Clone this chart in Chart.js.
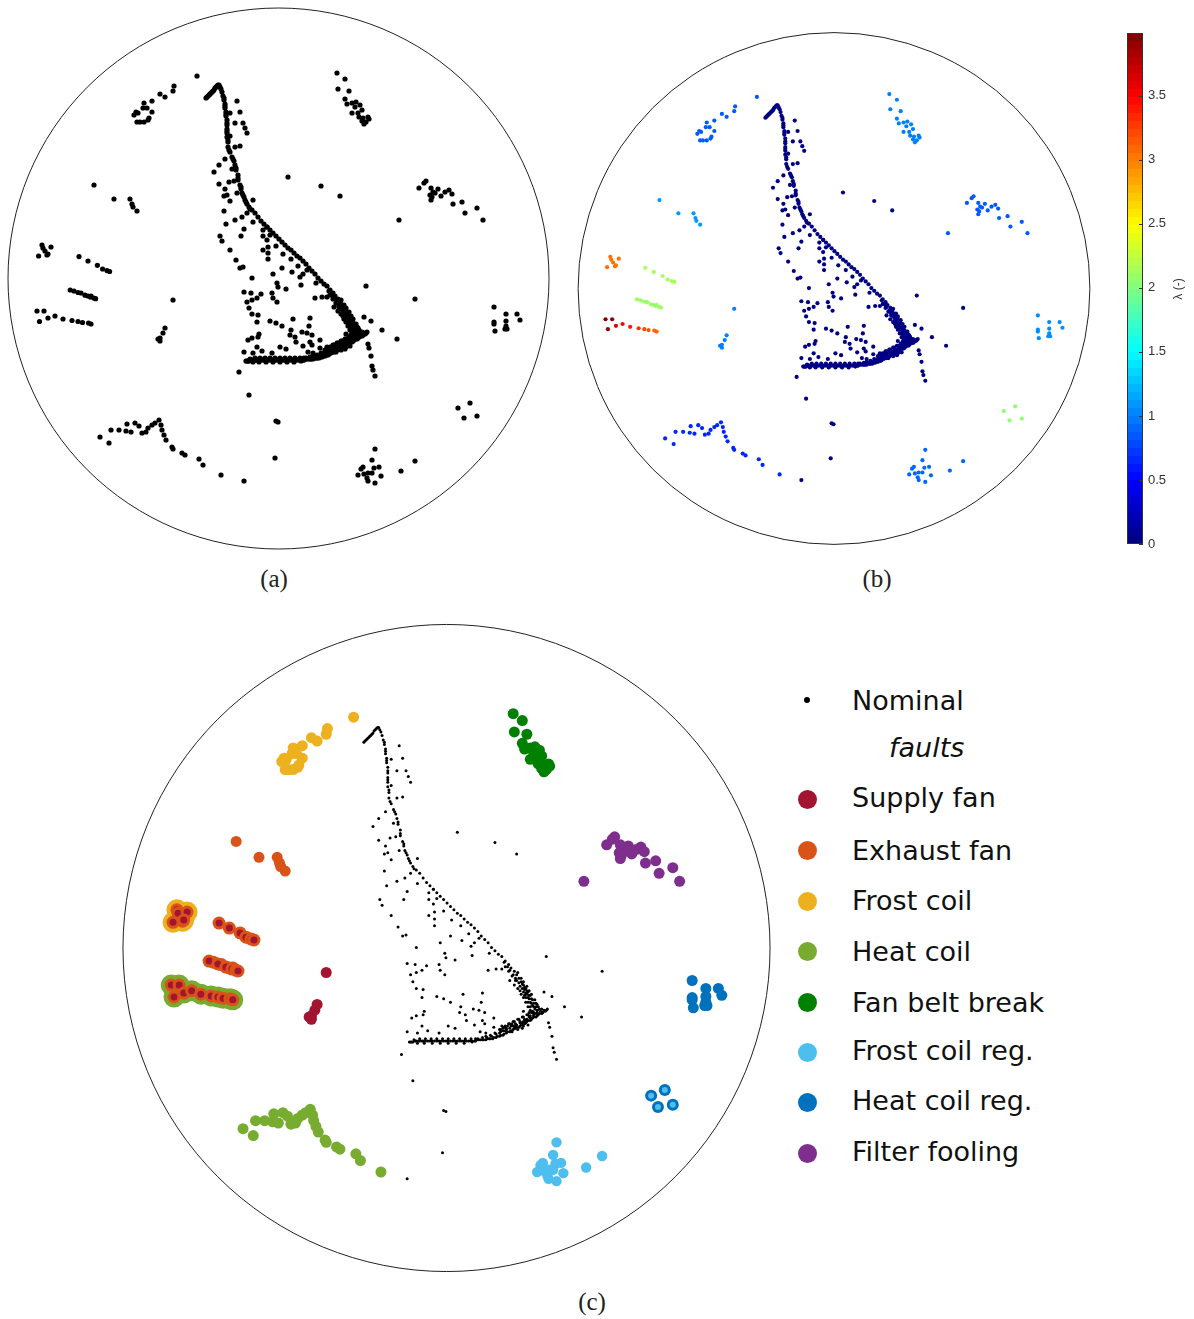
<!DOCTYPE html>
<html>
<head>
<meta charset="utf-8">
<script src="https://cdn.jsdelivr.net/npm/chart.js@4"></script>
<style>
body { margin: 0; background: #fff; width: 1194px; height: 1319px; position: relative; overflow: hidden; }
canvas { position: absolute; }
.cap { position: absolute; font-family: "Liberation Serif", serif; font-size: 25px; color: #222; transform: translateX(-50%); }
.leg { position: absolute; left: 852px; font-family: "DejaVu Sans", sans-serif; font-size: 27px; color: #111; line-height: 32px; white-space: nowrap; }
.dot { position: absolute; left: 797.5px; width: 19px; height: 19px; border-radius: 50%; }
#lam { position: absolute; left: 1158px; top: 282px; width: 40px; text-align: center; font-family: "Liberation Sans", sans-serif; font-size: 12px; color: #333; transform: rotate(-90deg); }
</style>
</head>
<body>
<canvas id="panelA" width="556" height="558" style="left:0;top:0"></canvas>
<canvas id="panelB" width="530" height="530" style="left:570px;top:25px"></canvas>
<canvas id="panelC" width="664" height="664" style="left:115px;top:616px"></canvas>
<canvas id="colorbar" width="67" height="531" style="left:1127px;top:23px"></canvas>
<div id="lam">λ (-)</div>
<div class="cap" style="left:274px;top:565px">(a)</div>
<div class="cap" style="left:877px;top:565px">(b)</div>
<div class="cap" style="left:592px;top:1288px">(c)</div>
<div id="legend"></div>
<script>
let nominal = [
[206,98],[207,97],[208,96],[209,95],[210,94],[211,93],[212,92],[213,91],[214,90],[215,88],[216,87],[217,86],[218,85],[219,85],[220,87],[221,89],
[222,92],[223,96],[224,98],[224,100],[225,104],[225,106],[225,108],[226,112],[226,114],[226,116],[227,120],[227,123],[227,125],[227,129],[227,131],[227,133],[227,137],[228,140],[228,142],[228,147],[229,150],[230,152],[232,157],[233,159],[234,161],[235,165],[236,168],[236,170],[238,175],[238,178],[238,180],[240,185],[241,187],[241,189],[242,193],[243,195],[244,197],[245,200],[246,202],[247,204],[249,207],[250,209],[252,210],[255,213],[258,217],[261,221],[264,224],[267,227],[270,230],[273,233],[276,236],[279,239],[282,242],[285,245],[288,248],[291,250],[294,253],[297,256],[300,258],[303,261],[306,264],[309,268],[312,271],[315,274],[318,278],[321,281],[324,284],[327,286],[330,290],[333,293],[335,296],[338,299],[340,302],[342,305],[344,308],[346,311],[348,314],[350,317],[352,320],[354,324],[355,327],[357,330],[358,333],
[329,291],[332,295],[334,298],[337,302],[339,305],[341,300],[344,305],[346,308],[349,312],[351,316],[353,319],[356,324],[358,328],[360,332],[342,309],[345,314],[348,318],[350,322],[352,326],[354,329],[356,332],[340,307],[343,312],[346,317],[348,322],[350,326],[352,330],[354,334],[351,335],
[330,295],[333,299],[336,303],[339,307],[338,311],[341,314],[344,319],[346,322],[348,326],[350,330],[352,333],[355,335],[347,315],[349,319],[351,323],[353,327],[355,330],[343,316],[345,310],[347,313],[349,316],[351,320],[353,323],[357,327],[359,330],
[367,332],[366,333],[365,334],[363,335],[362,336],[360,336],[359,337],[358,338],[357,339],[355,339],[354,340],[353,341],[352,342],[350,342],[349,343],[348,344],[347,345],[345,345],[344,346],[343,347],[342,348],[340,348],[339,349],[338,349],[337,350],[335,351],[334,352],[332,352],[331,353],[329,354],[328,355],[326,355],[325,356],[323,356],[322,357],[320,357],[319,358],[317,358],[316,358],[314,358],[313,359],[311,359],[310,359],[308,359],[306,359],[304,360],[303,360],[301,360],[300,360],[298,360],[296,360],[294,360],[292,360],[290,360],[288,360],[286,360],[284,360],[282,360],[280,360],[278,360],[276,360],[274,360],[272,360],[270,360],[268,360],[266,360],[264,360],[262,360],[260,360],[258,360],[257,360],[255,360],[254,360],[252,360],[251,360],[249,361],[248,361],[247,361],[246,361],
[362,332],[358,335],[355,337],[351,339],[347,341],[343,343],[339,345],[335,347],[331,349],[326,352],[350,346],[345,349],[353,335],[349,337],[345,339],[341,341],[337,343],[333,345],[329,348],[325,350],[321,353],[317,355],[313,356],[336,352],[341,350],[346,347],[330,351],
[325,353],[328,351],[331,350],[334,349],[337,347],[340,346],[343,344],[346,343],[349,341],[352,340],[355,338],[358,336],[361,334],[364,333],[326,350],[330,347],[334,345],[338,343],[342,341],[346,339],[350,337],[354,335],[358,333],[322,354],[318,356],[314,357],[310,357],[306,358],[339,347],[344,344],[348,342],[352,338],[356,336],[336,345],[332,347],[328,349],
[250,359],[255,358],[260,358],[265,358],[270,358],[275,358],[280,358],[285,358],[290,358],[295,358],[300,358],[304,358],[253,362],[259,362],[266,362],[273,362],[280,362],[287,362],[294,362],[301,361],
[237,101],[230,113],[240,112],[243,123],[245,128],[247,133],[235,123],[230,136],[240,146],[235,147],[225,159],[219,165],[214,172],[232,169],[219,184],[229,182],[234,181],[225,189],[227,195],[224,196],[237,193],[230,201],[253,200],[224,211],[247,213],[242,217],[235,220],[226,224],[253,222],[244,229],[241,236],[220,236],[222,241],[230,250],[236,260],[240,268],[243,267],[252,278],[273,274],[282,268],[292,272],[298,266],[291,259],[283,254],[276,246],[268,247],[263,250],[268,253],[268,259],[263,236],[267,240],[270,235],[263,230],[267,227],
[300,277],[303,274],[307,270],[301,285],[316,283],[277,283],[278,287],[286,289],[244,292],[251,293],[261,294],[257,298],[272,293],[273,298],[277,302],[247,302],[252,300],[249,308],[252,314],[258,315],[257,322],[270,321],[276,323],[282,326],[293,319],[310,318],[309,326],[315,298],[322,297],[327,297],[334,307],[291,330],[290,335],[295,337],[302,332],[307,333],[312,335],[320,340],[310,342],[312,345],[296,342],[303,346],[280,347],[286,349],[259,334],[258,337],[252,338],[248,340],[244,352],[253,353],[257,347],[262,351],[272,353],[308,352],[313,353],[320,348],[327,347],[346,334],[347,320],
[364,317],[371,321],[382,330],[397,339],[366,286],[239,372],[415,299],[368,344],[369,348],[371,356],[372,366],[373,370],[375,376],
[288,177],[321,186],[340,196],[244,481],[249,395],[276,421],[278,422],[275,458]
];
let frostCoil = [[197,76],[174,86],[173,91],[165,97],[160,94],[152,101],[144,103],[143,108],[147,108],[152,112],[136,112],[134,115],[138,113],[149,118],[148,120],[144,122],[137,122],[140,122]];
let fanBeltBreak = [[337,73],[345,79],[338,89],[349,91],[345,99],[347,104],[352,103],[356,102],[355,107],[360,105],[362,110],[352,113],[358,113],[359,117],[362,121],[364,124],[368,117],[369,119],[366,122],[363,118]];
let filterFooling = [[419,188],[424,183],[426,181],[431,188],[438,189],[433,192],[430,195],[435,193],[431,200],[432,197],[441,196],[445,192],[449,190],[452,194],[453,204],[462,202],[465,213],[477,208],[483,220],[399,220]];
let heatCoilReg = [[494,307],[506,314],[517,314],[520,320],[494,322],[506,321],[494,324],[506,326],[495,331],[505,329],[507,329]];
let frostCoilReg = [[375,449],[372,460],[363,467],[361,469],[379,467],[374,468],[358,475],[364,474],[368,473],[372,473],[381,476],[367,478],[368,481],[375,483],[401,471],[415,461]];
let heatCoil = [[100,437],[109,443],[111,430],[119,430],[126,431],[127,424],[131,432],[135,423],[139,426],[142,433],[146,432],[148,428],[152,425],[155,423],[159,420],[161,425],[162,430],[164,435],[166,440],[172,447],[173,449],[182,453],[185,455],[199,459],[203,465],[221,475]];
let supplyFan = [[173,300],[165,328],[163,333],[160,338],[158,339],[160,341]];
let exhaustFan = [[94,185],[114,199],[130,199],[132,204],[133,207],[137,211]];
let exhaustBand = [[74,291],[81,293],[88,296],[91,296]];
// clusters that carry more than one fault label
let frostExhaustSupply = [[42,245],[45,251],[47,255],[43,248],[51,247],[38.6,256],[48,254]];
let exhaustSupplyA = [[79,256.6],[88,261],[97.4,265.3],[102.6,269],[107,270.6],[109.6,271.5]];
let exhaustSupplyB = [[70.2,290],[78,292.5],[85,295.2],[90.3,297],[93.8,298],[95.6,298.7]];
let heatExhaustSupply = [[37,311],[44,311],[39.5,321.5],[48,318],[55,316],[63,319],[72,320.5],[78,321.5],[82.5,322.5],[88.5,323],[91,324]];
let heatFrostReg = [[470,403],[458,408],[464,418],[477,416]];
let heatExhaustSupplyLambda = [3.95,3.95,3.9,3.6,3.5,3.4,3.3,3.2,3.15,3.1,3.1];

let legendNames = ['Supply fan','Exhaust fan','Frost coil','Heat coil','Fan belt break','Frost coil reg.','Heat coil reg.','Filter fooling'];
let legendColors = ['#a2142f','#d95319','#edb120','#77ac30','#008000','#4dbeee','#0072bd','#7e2f8e'];
let legendY = [799,850,901,951,1002,1052,1102,1153];
let legendTextY = [798,851,901,952,1003,1051,1101,1152];
let colorbarTicks = [0,0.5,1,1.5,2,2.5,3,3.5];
let lambdaMax = 3.99;

const RED = legendColors[0], ORANGE = legendColors[1], YELLOW = legendColors[2], GREEN = legendColors[3];
const BELT = legendColors[4], SKY = legendColors[5], BLUE = legendColors[6], PURPLE = legendColors[7];

function jet(v) {
    let t = Math.min(Math.max(v / lambdaMax, 0), 1);
    let r = Math.min(Math.max(Math.min(4 * t - 1.5, -4 * t + 4.5), 0), 1);
    let g = Math.min(Math.max(Math.min(4 * t - 0.5, -4 * t + 3.5), 0), 1);
    let b = Math.min(Math.max(Math.min(4 * t + 0.5, -4 * t + 2.5), 0), 1);
    return 'rgb(' + Math.round(r * 255) + ',' + Math.round(g * 255) + ',' + Math.round(b * 255) + ')';
}

function toXY(points) {
    return points.map(function (p) { return { x: p[0], y: p[1] }; });
}

function ds(points, color, radius) {
    return { data: toXY(points), pointBackgroundColor: color, pointRadius: radius, pointBorderWidth: 0, showLine: false };
}

// each point is drawn as nested circles, later points cover earlier ones
function nested(points, colors, radii) {
    let data = [], col = [], rad = [];
    points.forEach(function (p) {
        colors.forEach(function (c, i) {
            data.push({ x: p[0], y: p[1] });
            col.push(c);
            rad.push(radii[i]);
        });
    });
    return { data: data, pointBackgroundColor: col, pointRadius: rad, pointBorderWidth: 0, showLine: false };
}

let discPlugin = {
    id: 'disc',
    beforeDatasetsDraw(chart, args, opts) {
        let x = chart.scales.x, y = chart.scales.y, ctx = chart.ctx;
        let r = Math.abs(x.getPixelForValue(278.5 + opts.radius) - x.getPixelForValue(278.5));
        ctx.save();
        ctx.strokeStyle = '#222';
        ctx.lineWidth = 1;
        ctx.beginPath();
        ctx.arc(x.getPixelForValue(278.5), y.getPixelForValue(278.5), r, 0, Math.PI * 2);
        ctx.stroke();
        ctx.restore();
    }
};

function panel(id, datasets, cx, cy, scale, discRadius) {
    let canvas = document.getElementById(id);
    datasets.forEach(function (d, i) { d.order = -i; d.clip = false; });
    return new Chart(canvas, {
        type: 'scatter',
        data: { datasets: datasets },
        plugins: [discPlugin],
        options: {
            responsive: false,
            animation: false,
            layout: { autoPadding: false },
            scales: {
                x: { display: false, min: 278.5 - cx / scale, max: 278.5 + (canvas.width - cx) / scale },
                y: { display: false, reverse: true, min: 278.5 - cy / scale, max: 278.5 + (canvas.height - cy) / scale }
            },
            plugins: { legend: { display: false }, tooltip: { enabled: false }, disc: { radius: discRadius } }
        }
    });
}

let allGroups = [nominal, frostCoil, fanBeltBreak, filterFooling, heatCoilReg, frostCoilReg, heatCoil, supplyFan, exhaustFan,
    frostExhaustSupply, exhaustSupplyA, exhaustSupplyB, heatExhaustSupply, heatFrostReg, exhaustBand];

// (a) everything black
panel('panelA', allGroups.map(function (g) { return ds(g, '#000', 2.6); }), 278.5, 278.5, 1, 270.5);

// (b) coloured by lambda
let groupLambda = [0.02, 0.85, 1.0, 0.85, 1.05, 0.9, 0.65, 1.0, 1.1, 3.05, 2.15, 2.1, null, 2.05, 2.1];
panel('panelB', allGroups.map(function (g, i) {
    let color = groupLambda[i] === null ? heatExhaustSupplyLambda.map(jet) : jet(groupLambda[i]);
    return ds(g, color, 2.1);
}), 264, 263.5, 0.946, 270.5);

// (c) fault labels
panel('panelC', [
    ds(nominal, '#000', 1.5),
    ds(frostCoil, YELLOW, 5.5),
    ds(fanBeltBreak, BELT, 5.5),
    ds(filterFooling, PURPLE, 5.5),
    ds(heatCoilReg, BLUE, 5.5),
    ds(frostCoilReg, SKY, 5.2),
    ds(heatCoil, GREEN, 5.5),
    ds(supplyFan, RED, 5.5),
    ds(exhaustFan, ORANGE, 5.5),
    ds(heatExhaustSupply, GREEN, 10.5),
    ds(frostExhaustSupply, YELLOW, 10.5),
    ds(exhaustBand, ORANGE, 6.5),
    nested(heatExhaustSupply, [ORANGE, RED], [6.5, 3.5]),
    nested(frostExhaustSupply, [ORANGE, RED], [6.5, 3.5]),
    nested(exhaustSupplyA, [ORANGE, RED], [6.5, 3.5]),
    nested(exhaustSupplyB, [ORANGE, RED], [6.5, 3.5]),
    nested(heatFrostReg, [BLUE, SKY], [6, 3])
], 331.5, 332, 1.14, 283.8);

// colorbar, one bar filled with 64 jet levels
let cbTicks = {
    id: 'cbTicks',
    afterDatasetsDraw(chart) {
        let ctx = chart.ctx, a = chart.chartArea, y = chart.scales.y;
        ctx.save();
        ctx.strokeStyle = '#333';
        ctx.lineWidth = 1;
        ctx.strokeRect(a.left + 0.5, a.top + 0.5, a.right - a.left - 1, a.bottom - a.top - 1);
        colorbarTicks.forEach(function (t) {
            let p = Math.round(y.getPixelForValue(t)) + 0.5;
            ctx.beginPath();
            ctx.moveTo(a.right - 4, p);
            ctx.lineTo(a.right, p);
            ctx.stroke();
        });
        ctx.restore();
    }
};
new Chart(document.getElementById('colorbar'), {
    type: 'bar',
    data: {
        labels: ['lambda'],
        datasets: [{
            data: [lambdaMax],
            barPercentage: 1,
            categoryPercentage: 1,
            backgroundColor: function (c) {
                let a = c.chart.chartArea;
                if (!a) return '#000';
                let g = c.chart.ctx.createLinearGradient(0, a.bottom, 0, a.top);
                for (let i = 0; i < 64; i++) {
                    let col = jet((i + 0.5) / 64 * lambdaMax);
                    g.addColorStop(i / 64, col);
                    g.addColorStop((i + 1) / 64, col);
                }
                return g;
            }
        }]
    },
    plugins: [cbTicks],
    options: {
        responsive: false,
        animation: false,
        layout: { padding: { top: 10, bottom: 10, left: 0, right: 0 }, autoPadding: false },
        scales: {
            x: { display: false },
            y: {
                position: 'right',
                min: 0,
                max: lambdaMax,
                grid: { display: false, drawTicks: false },
                border: { display: false },
                afterBuildTicks: function (s) { s.ticks = colorbarTicks.map(function (v) { return { value: v }; }); },
                afterFit: function (s) { s.width = 51; s.paddingTop = 0; s.paddingBottom = 0; },
                ticks: {
                    padding: 5,
                    color: '#333',
                    font: { family: 'Liberation Sans', size: 13 },
                    callback: function (v) { return String(v); }
                }
            }
        },
        plugins: { legend: { display: false }, tooltip: { enabled: false } }
    }
});

// legend text on the right of disc (c)
let legendEl = document.getElementById('legend');
function addLabel(text, left, y, italic) {
    let el = document.createElement('div');
    el.className = 'leg';
    el.textContent = text;
    el.style.left = left + 'px';
    el.style.top = (y - 16) + 'px';
    if (italic) el.style.fontStyle = 'italic';
    legendEl.appendChild(el);
}
let nomDot = document.createElement('div');
nomDot.className = 'dot';
nomDot.style.cssText = 'left:804px;top:697px;width:6px;height:6px;background:#000';
legendEl.appendChild(nomDot);
addLabel('Nominal', 852, 701, false);
addLabel('faults', 889, 748, true);
legendNames.forEach(function (name, i) {
    let dot = document.createElement('div');
    dot.className = 'dot';
    dot.style.top = (legendY[i] - 9.5) + 'px';
    dot.style.background = legendColors[i];
    legendEl.appendChild(dot);
    addLabel(name, 852, legendTextY[i], false);
});
</script>
</body>
</html>
